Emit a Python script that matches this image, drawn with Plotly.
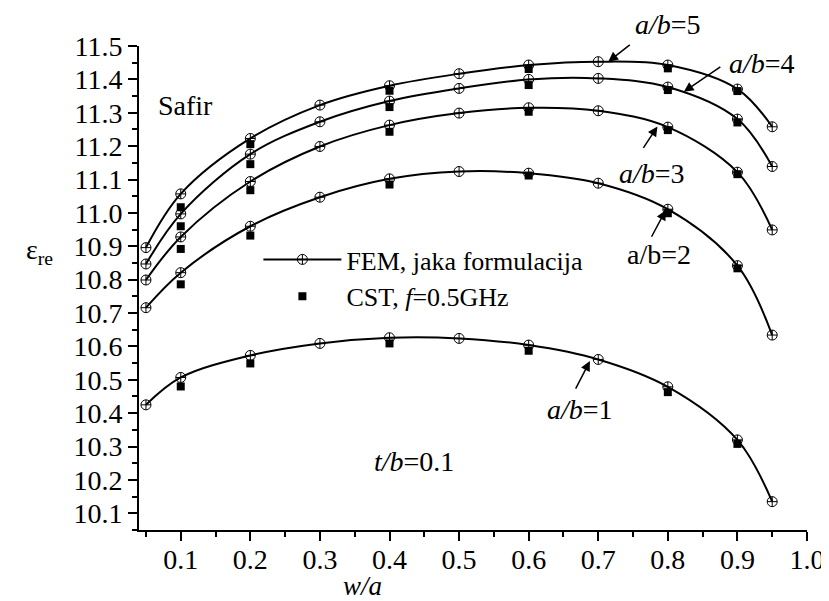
import plotly.graph_objects as go

# ---- data ----
x_fem = [0.05, 0.1, 0.2, 0.3, 0.4, 0.5, 0.6, 0.7, 0.8, 0.9, 0.95]
fem_ab1 = [10.425, 10.507, 10.573, 10.609, 10.626, 10.624, 10.604, 10.561, 10.479, 10.320, 10.135]
fem_ab2 = [10.716, 10.821, 10.960, 11.047, 11.102, 11.124, 11.119, 11.089, 11.011, 10.842, 10.634]
fem_ab3 = [10.799, 10.928, 11.094, 11.199, 11.263, 11.299, 11.315, 11.306, 11.257, 11.122, 10.949]
fem_ab4 = [10.847, 10.997, 11.176, 11.273, 11.335, 11.373, 11.400, 11.403, 11.377, 11.281, 11.139]
fem_ab5 = [10.896, 11.057, 11.223, 11.323, 11.381, 11.417, 11.443, 11.453, 11.443, 11.371, 11.258]

x_cst = [0.1, 0.2, 0.4, 0.6, 0.8, 0.9]
cst_ab1 = [10.480, 10.549, 10.609, 10.587, 10.463, 10.308]
cst_ab2 = [10.786, 10.932, 11.085, 11.112, 10.999, 10.834]
cst_ab3 = [10.892, 11.068, 11.243, 11.303, 11.248, 11.116]
cst_ab4 = [10.960, 11.146, 11.317, 11.383, 11.368, 11.271]
cst_ab5 = [11.017, 11.206, 11.366, 11.431, 11.433, 11.365]

fem_series = [fem_ab1, fem_ab2, fem_ab3, fem_ab4, fem_ab5]
cst_series = [cst_ab1, cst_ab2, cst_ab3, cst_ab4, cst_ab5]

FONT = "Liberation Serif, Times New Roman, serif"
W, H = 829, 601
ML, MR, MT, MB = 131, 21, 38, 79
PW, PH = W - ML - MR, H - MT - MB


def px(xp):
    return (xp - ML) / PW


def py(yp):
    return 1 - (yp - MT) / PH


fig = go.Figure()

for i, ys in enumerate(fem_series):
    fig.add_trace(go.Scatter(
        x=x_fem, y=ys, mode="lines+markers",
        line=dict(color="black", width=2, shape="spline", smoothing=1.0),
        marker=dict(symbol="circle-cross-open", size=10, color="black",
                    line=dict(width=1, color="black")),
        name="FEM, jaka formulacija", showlegend=(i == 0),
        legendrank=1,
    ))

for i, ys in enumerate(cst_series):
    fig.add_trace(go.Scatter(
        x=x_cst, y=ys, mode="markers",
        marker=dict(symbol="square", size=8, color="black"),
        name="CST, <i>f</i>=0.5GHz", showlegend=(i == 0),
        legendrank=2,
    ))

annotations = []

# arrows: head at data point on curve, tail offset in pixels
arrows = [
    (0.7144, 11.453, 23, -18),
    (0.823, 11.363, 38, -26),
    (0.785, 11.259, -15, 23),
    (0.797, 11.008, -15, 28),
    (0.688, 10.556, -15, 29),
]
for (xh, yh, ax, ay) in arrows:
    annotations.append(dict(
        x=xh, y=yh, xref="x", yref="y", ax=ax, ay=ay, text="",
        showarrow=True, arrowhead=2, arrowsize=1.3, arrowwidth=1.5,
        arrowcolor="black", standoff=0,
    ))

labels = [
    ("<i>a/b</i>=5", 667, 16),
    ("<i>a/b</i>=4", 762, 55),
    ("<i>a/b</i>=3", 651, 165),
    ("a/b=2", 658, 246),
    ("<i>a/b</i>=1", 578, 401),
    ("<i>t/b</i>=0.1", 410, 453),
    ("Safir", 178, 97),
]
for (t, xp, yp) in labels:
    annotations.append(dict(
        text=t, x=px(xp), y=py(yp), xref="paper", yref="paper",
        showarrow=False, xanchor="center", yanchor="middle",
        font=dict(family=FONT, size=28, color="black"),
    ))

# axis titles
annotations.append(dict(
    text="ε<sub>re</sub>", x=px(30), y=py(243), xref="paper", yref="paper",
    showarrow=False, xanchor="center", yanchor="middle",
    font=dict(family=FONT, size=28, color="black"),
))
annotations.append(dict(
    text="<i>w/a</i>", x=px(358), y=py(578), xref="paper", yref="paper",
    showarrow=False, xanchor="center", yanchor="middle",
    font=dict(family=FONT, size=27, color="black"),
))

fig.update_layout(
    width=W, height=H,
    margin=dict(l=ML, r=MR, t=MT, b=MB),
    paper_bgcolor="white", plot_bgcolor="white",
    font=dict(family=FONT, size=28, color="black"),
    showlegend=True,
    legend=dict(
        x=px(252), y=py(228), xanchor="left", yanchor="top",
        bgcolor="rgba(0,0,0,0)", borderwidth=0,
        font=dict(family=FONT, size=26, color="black"),
        itemwidth=78, tracegroupgap=0,
    ),
    annotations=annotations,
)

fig.update_xaxes(
    range=[0.04, 1.0], tick0=0, dtick=0.1, tickformat=".1f",
    showgrid=False, zeroline=False,
    showline=True, linecolor="black", linewidth=2,
    ticks="outside", ticklen=9, tickwidth=2, tickcolor="black",
    ticklabelstandoff=-6,
    minor=dict(dtick=0.05, tick0=0, ticks="outside", ticklen=5, tickwidth=2,
               tickcolor="black", showgrid=False),
    tickfont=dict(family=FONT, size=28, color="black"),
)
fig.update_yaxes(
    range=[10.05, 11.5], tick0=10, dtick=0.1, tickformat=".1f",
    showgrid=False, zeroline=False,
    showline=True, linecolor="black", linewidth=2,
    ticks="outside", ticklen=9, tickwidth=2, tickcolor="black",
    minor=dict(dtick=0.05, tick0=10, ticks="outside", ticklen=5, tickwidth=2,
               tickcolor="black", showgrid=False),
    tickfont=dict(family=FONT, size=28, color="black"),
)

fig.write_html("out.html")
